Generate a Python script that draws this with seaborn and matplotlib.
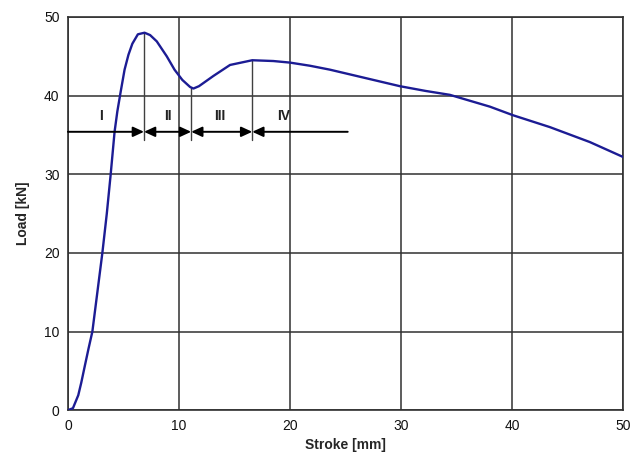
import matplotlib
matplotlib.use("Agg")
import matplotlib.pyplot as plt
import seaborn as sns
import pandas as pd

# Load–stroke record of the crush test
stroke = [0.0, 0.45, 0.93, 1.2, 1.5, 1.85, 2.2, 2.65, 3.1, 3.5, 3.85, 4.2,
          4.45, 4.75, 5.1, 5.45, 5.8, 6.3, 6.9, 7.4, 8.0, 8.9, 9.6, 10.3,
          11.0, 11.3, 11.8, 12.4, 13.1, 14.6, 16.6, 18.5, 20.0, 21.8, 23.6,
          26.6, 29.9, 32.2, 34.4, 38.0, 40.1, 43.4, 47.0, 50.0]
load = [0.0, 0.25, 1.9, 3.5, 5.5, 7.8, 10.0, 15.0, 20.0, 25.0, 30.0, 35.4,
        38.0, 40.5, 43.3, 45.2, 46.6, 47.8, 48.0, 47.7, 46.9, 45.0, 43.3,
        42.0, 41.1, 40.9, 41.2, 41.8, 42.5, 43.9, 44.5, 44.4, 44.2, 43.8,
        43.3, 42.3, 41.2, 40.6, 40.1, 38.6, 37.5, 36.0, 34.1, 32.2]

# Deformation stages and their boundaries
stage_names = ["I", "II", "III", "IV"]
stage_bounds = [0.0, 6.85, 11.1, 16.6, 25.2]
bound_loads = [48.0, 41.0, 44.5]
stage_level = 35.4
label_x = [3.0, 9.0, 13.7, 19.4]
label_y = 37.4

df = pd.DataFrame({"Stroke [mm]": stroke, "Load [kN]": load})

sns.set_style("white")
plt.rcParams["font.family"] = ["Liberation Sans", "DejaVu Sans"]

fig = plt.figure(figsize=(6.41, 4.72), dpi=100)
ax = fig.add_axes([0.106, 0.131, 0.866, 0.833])

sns.lineplot(data=df, x="Stroke [mm]", y="Load [kN]", ax=ax,
             color="#1c1c94", linewidth=1.7, zorder=5)

ax.set_xlim(0, 50)
ax.set_ylim(0, 50)
ax.set_xticks(range(0, 51, 10))
ax.set_yticks(range(0, 51, 10))
ax.grid(True, color="#303030", linewidth=1.1)
ax.set_axisbelow(True)
for sp in ax.spines.values():
    sp.set_color("#303030")
    sp.set_linewidth(1.2)
ax.tick_params(axis="both", direction="out", length=3, width=1,
               color="#303030", labelsize=10, labelcolor="#111111", pad=3)
ax.set_xlabel("Stroke [mm]", fontsize=10, fontweight="bold", labelpad=4)
ax.set_ylabel("Load [kN]", fontsize=10, fontweight="bold", labelpad=10)

# Stage boundary markers
for xb, yb in zip(stage_bounds[1:4], bound_loads):
    ax.plot([xb, xb], [stage_level - 1.0, yb], color="#404040",
            linewidth=1.0, zorder=4)

# Stage arrows
styles = ["-|>", "<|-|>", "<|-|>", "<|-"]
for i, st in enumerate(styles):
    ax.annotate("", xy=(stage_bounds[i + 1], stage_level),
                xytext=(stage_bounds[i], stage_level),
                arrowprops=dict(arrowstyle=st + ",head_length=0.65,head_width=0.3",
                                color="black", linewidth=1.4,
                                shrinkA=0, shrinkB=0, mutation_scale=10),
                zorder=6)

for name, lx in zip(stage_names, label_x):
    ax.text(lx, label_y, name, ha="center", va="center", fontsize=10,
            fontweight="bold", color="#222222", zorder=6)

fig.savefig("out.png", dpi=100)
